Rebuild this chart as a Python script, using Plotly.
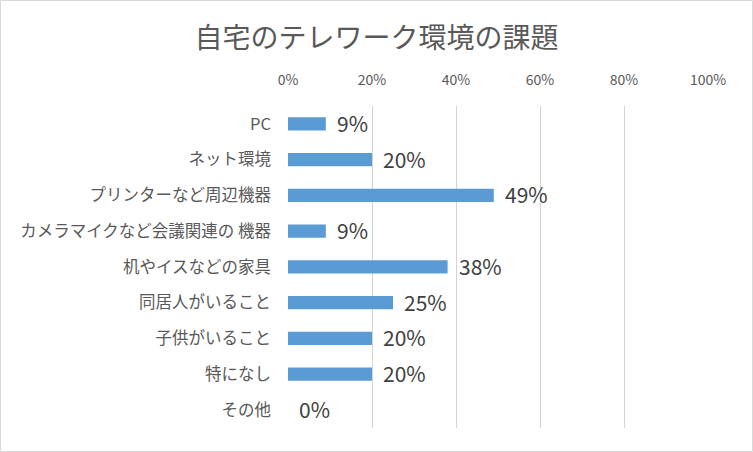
import plotly.graph_objects as go

categories = ["PC", "ネット環境", "プリンターなど周辺機器", "カメラマイクなど会議関連の 機器",
              "机やイスなどの家具", "同居人がいること", "子供がいること", "特になし", "その他"]
values = [0.09, 0.20, 0.49, 0.09, 0.38, 0.25, 0.20, 0.20, 0.0]
labels = ["9%", "20%", "49%", "9%", "38%", "25%", "20%", "20%", "0%"]
tick_vals = [0, 0.2, 0.4, 0.6, 0.8, 1.0]
tick_text = ["0%", "20%", "40%", "60%", "80%", "100%"]
title_text = "自宅のテレワーク環境の課題"

W, H = 753, 452
ML, MR, MT, MB = 288, 45, 106, 24
FONT = "Noto Sans CJK JP"

fig = go.Figure()
fig.add_trace(go.Bar(
    y=categories, x=values, orientation="h",
    marker=dict(color="#5b9bd5", line=dict(width=0)),
    width=0.37, hoverinfo="skip",
))

for c, v, t in zip(categories, values, labels):
    fig.add_annotation(x=v, y=c, text=t, showarrow=False, xanchor="left",
                       xshift=9, yshift=1,
                       font=dict(family=FONT, size=21, color="#404040"))

pw = W - ML - MR
ph = H - MT - MB
fig.add_shape(type="rect", xref="paper", yref="paper",
              x0=(-ML + 0.5) / pw, x1=1 + (MR - 0.5) / pw,
              y0=(-MB + 0.5) / ph, y1=1 + (MT - 0.5) / ph,
              line=dict(color="#d9d9d9", width=1), layer="below")

fig.update_layout(
    width=W, height=H,
    margin=dict(l=ML, r=MR, t=MT, b=MB),
    paper_bgcolor="white", plot_bgcolor="white",
    showlegend=False,
    title=dict(text=title_text, x=0.5, xref="container", xanchor="center",
               y=1 - 38 / H, yanchor="middle",
               font=dict(family=FONT, size=28, color="#595959")),
    xaxis=dict(range=[0, 1.0], side="top", tickvals=tick_vals, ticktext=tick_text,
               showgrid=True, gridcolor="#d4d4d4", gridwidth=1.3, zeroline=False,
               showline=False, ticks="", ticklabelstandoff=17,
               tickfont=dict(family=FONT, size=14, color="#595959"), fixedrange=True),
    yaxis=dict(autorange="reversed", showgrid=False, zeroline=False, showline=False,
               ticks="", ticklabelstandoff=16,
               tickfont=dict(family=FONT, size=16.5, color="#595959"), fixedrange=True),
)

fig.write_html("out.html", config={"displayModeBar": False},
               post_script="document.body.style.margin='0';document.body.style.overflow='hidden';")
